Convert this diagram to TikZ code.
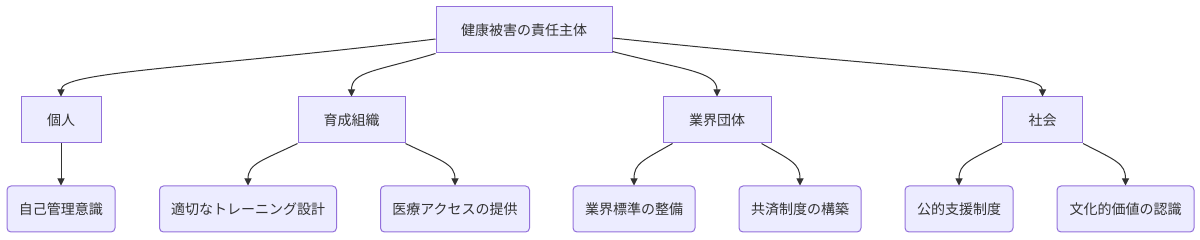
\documentclass[tikz,border=0pt]{standalone}
\usepackage{fontspec}
\setmainfont{Noto Sans CJK JP}
\usetikzlibrary{arrows.meta}
\definecolor{boxfill}{HTML}{ECECFF}
\definecolor{boxline}{HTML}{9370DB}
\definecolor{ink}{HTML}{333333}
\begin{document}
\begin{tikzpicture}[x=1pt,y=-1pt,
  box/.style={draw=boxline,fill=boxfill,line width=1pt,text=ink,inner sep=0pt,
    minimum height=46pt,font=\fontsize{14}{17}\selectfont},
  leaf/.style={box,rounded corners=4pt},
  edge/.style={draw=ink,line width=1pt,-{Triangle[length=7pt,width=7pt]}}]
\useasboundingbox (0,0) rectangle (1200,240);
% root
\node[box,minimum width=176pt] (root) at (524,30) {健康被害の責任主体};
% level 2
\node[box,minimum width=80pt]  (p1) at (61,120)  {個人};
\node[box,minimum width=107pt] (p2) at (351.5,120) {育成組織};
\node[box,minimum width=108pt] (p3) at (717,120) {業界団体};
\node[box,minimum width=80pt]  (p4) at (1042.5,120) {社会};
% level 3
\node[leaf,minimum width=108pt] (c1) at (61,209)  {自己管理意識};
\node[leaf,minimum width=177pt] (c2) at (248,209) {適切なトレーニング設計};
\node[leaf,minimum width=149pt] (c3) at (455,209) {医療アクセスの提供};
\node[leaf,minimum width=122pt] (c4) at (634,209) {業界標準の整備};
\node[leaf,minimum width=122pt] (c5) at (800,209) {共済制度の構築};
\node[leaf,minimum width=108pt] (c6) at (959,209) {公的支援制度};
\node[leaf,minimum width=137pt] (c7) at (1125.5,209) {文化的価値の認識};
% edges root -> level 2
\draw[edge] ([yshift=-9pt]root.west) .. controls +(-236,29) and +(0,-25) .. (p1.north);
\draw[edge] (root.south west) .. controls +(-60,18) and +(0,-25) .. (p2.north);
\draw[edge] ([yshift=2pt]root.south east) .. controls +(70,18) and +(0,-25) .. (p3.north);
\draw[edge] ([yshift=-8pt]root.east) .. controls +(300,32) and +(0,-25) .. (p4.north);
% edges level 2 -> level 3
\draw[edge] (p1.south) -- (c1.north);
\draw[edge] (p2.south west) .. controls +(-35,17) and +(0,-22) .. (c2.north);
\draw[edge] (p2.south east) .. controls +(35,17) and +(0,-22) .. (c3.north);
\draw[edge] ([xshift=10pt]p3.south west) .. controls +(-30,17) and +(0,-22) .. (c4.north);
\draw[edge] ([xshift=-10pt]p3.south east) .. controls +(30,17) and +(0,-22) .. (c5.north);
\draw[edge] (p4.south west) .. controls +(-33,17) and +(0,-22) .. (c6.north);
\draw[edge] (p4.south east) .. controls +(33,17) and +(0,-22) .. (c7.north);
\end{tikzpicture}
\end{document}
